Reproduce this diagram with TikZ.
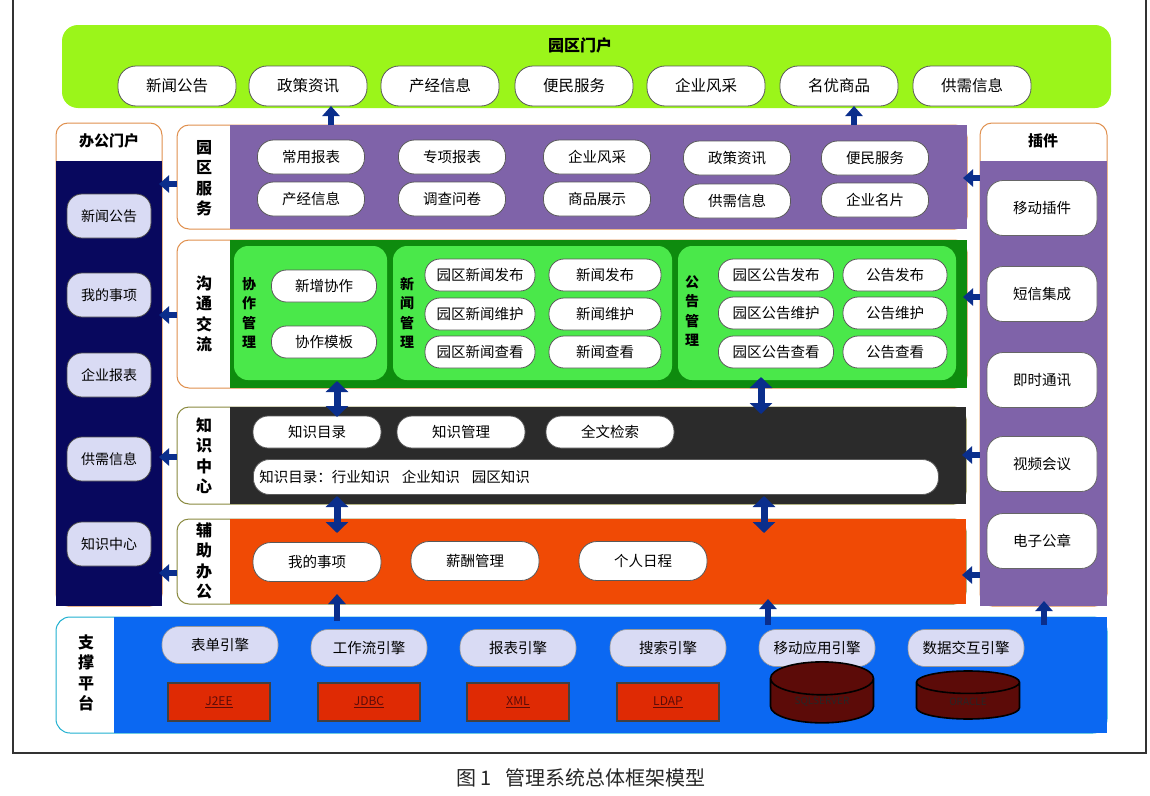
\documentclass[tikz,border=0pt]{standalone}
\usepackage{fontspec}
\setmainfont{Noto Sans CJK SC}
\usetikzlibrary{arrows.meta,shapes.geometric,calc}
\definecolor{limeC}{HTML}{9BF51A}
\definecolor{purpleC}{HTML}{7F63A9}
\definecolor{dkgreen}{HTML}{0E8B0E}
\definecolor{ltgreen}{HTML}{4AE84A}
\definecolor{darkC}{HTML}{2B2B2B}
\definecolor{orangeC}{HTML}{F04A05}
\definecolor{blueC}{HTML}{0B68F2}
\definecolor{navyC}{HTML}{08085E}
\definecolor{lavC}{HTML}{D9DBF4}
\definecolor{arrowC}{HTML}{0A2E8C}
\definecolor{redC}{HTML}{DF2A04}
\definecolor{cylC}{HTML}{5C0B08}
\definecolor{frameO}{HTML}{E0904E}
\definecolor{frameG}{HTML}{8A8A40}
\definecolor{frameB}{HTML}{20B0D0}
\begin{document}
\begin{tikzpicture}[x=1pt,y=-1pt,
  box/.style={inner sep=0pt, outer sep=0pt, anchor=north west},
  pill/.style={draw=black!65, fill=white, line width=0.8pt, inner sep=0pt, rounded corners=15pt, font=\fontsize{14.5}{14.5}\selectfont},
  lpill/.style={draw=black!70, fill=lavC, line width=0.8pt, inner sep=0pt, rounded corners=15pt, minimum width=84pt, minimum height=44pt, font=\fontsize{14}{14}\selectfont},
  epill/.style={draw=black!40, fill=lavC, line width=0.6pt, inner sep=0pt, rounded corners=17pt, minimum width=116pt, minimum height=37pt, font=\fontsize{14.5}{14.5}\selectfont},
  wpill/.style={draw=black!60, fill=white, line width=0.8pt, inner sep=0pt, rounded corners=16pt, minimum width=110pt, minimum height=55pt, font=\fontsize{14.5}{14.5}\selectfont},
  vlabel/.style={align=center, inner sep=0pt, font=\bfseries\fontsize{16}{20.5}\selectfont},
  ivlabel/.style={align=center, inner sep=0pt, font=\bfseries\fontsize{14}{19.5}\selectfont},
  redbox/.style={draw=black!75, line width=1.5pt, fill=redC, inner sep=0pt, minimum width=102pt, minimum height=38pt, text=cylC, font=\fontsize{12}{12}\selectfont},
  db/.style={cylinder, shape border rotate=90, aspect=0.6, draw=black, line width=1.6pt, fill=cylC, inner sep=0pt, minimum width=103pt, minimum height=48pt, text=black!85, font=\fontsize{10}{10}\selectfont},
  arr/.style={draw=arrowC, line width=6pt, -{Triangle[width=17pt,length=10pt]}},
  darr/.style={draw=arrowC, line width=7pt, {Triangle[width=22pt,length=11pt]}-{Triangle[width=22pt,length=11pt]}}
]
\useasboundingbox (0,0) rectangle (1150,795);
\fill[white] (0,0) rectangle (1150,795);
% outer frame
\draw[line width=1.5pt, black!80] (13,-5) -- (13,753) -- (1146,753) -- (1146,-5);

% ---------- park portal ----------
\node[box, fill=limeC, rounded corners=16pt, minimum width=1049pt, minimum height=83pt] (portal) at (62,25) {};
\node[inner sep=0pt, font=\bfseries\fontsize{16}{16}\selectfont] (portalT) at (580,45) {园区门户};
\begin{scope}[every node/.append style={pill, minimum width=118pt, minimum height=40pt, rounded corners=18pt, font=\fontsize{15.5}{15.5}\selectfont}]
\node (t1) at (177,86) {新闻公告};
\node (t2) at (308,86) {政策资讯};
\node (t3) at (440,86) {产经信息};
\node (t4) at (574,86) {便民服务};
\node (t5) at (706,86) {企业风采};
\node (t6) at (839,86) {名优商品};
\node (t7) at (972,86) {供需信息};
\end{scope}

% ---------- office portal (left column) ----------
\node[box, draw=frameO, line width=1pt, fill=white, rounded corners=12pt, minimum width=106pt, minimum height=483pt] (office) at (56,123) {};
\node[box, fill=navyC, minimum width=106pt, minimum height=445pt] (officeB) at (56,161) {};
\node[inner sep=0pt, font=\bfseries\fontsize{15}{15}\selectfont] (officeT) at (109,141) {办公门户};
\node[lpill] (o1) at (109,216) {新闻公告};
\node[lpill] (o2) at (109,295) {我的事项};
\node[lpill] (o3) at (109,375) {企业报表};
\node[lpill] (o4) at (109,459) {供需信息};
\node[lpill] (o5) at (109,544) {知识中心};

% ---------- plug-ins (right column) ----------
\node[box, draw=frameO, line width=1pt, fill=white, rounded corners=12pt, minimum width=127pt, minimum height=483pt] (plug) at (980,123) {};
\node[box, fill=purpleC, minimum width=127pt, minimum height=445pt] (plugB) at (980,161) {};
\node[inner sep=0pt, font=\bfseries\fontsize{15}{15}\selectfont] (plugT) at (1043,141) {插件};
\node[wpill] (g1) at (1042,208) {移动插件};
\node[wpill] (g2) at (1042,294) {短信集成};
\node[wpill] (g3) at (1042,380) {即时通讯};
\node[wpill] (g4) at (1042,464) {视频会议};
\node[wpill] (g5) at (1042,541) {电子公章};

% ---------- park services ----------
\node[box, draw=frameO, line width=1pt, fill=white, rounded corners=12pt, minimum width=790pt, minimum height=104pt] (svcF) at (177,125) {};
\node[box, fill=purpleC, minimum width=737pt, minimum height=104pt] (svc) at (230,125) {};
\node[vlabel] (svcL) at (204,178) {园\\区\\服\\务};
\begin{scope}[every node/.append style={pill, minimum width=107pt, minimum height=34pt, rounded corners=16pt}]
\node (s1) at (311,157) {常用报表};
\node (s2) at (452,157) {专项报表};
\node (s3) at (597,157) {企业风采};
\node (s4) at (737,158) {政策资讯};
\node (s5) at (875,158) {便民服务};
\node (s6) at (311,199) {产经信息};
\node (s7) at (452,199) {调查问卷};
\node (s8) at (597,199) {商品展示};
\node (s9) at (737,201) {供需信息};
\node (s10) at (875,200) {企业名片};
\end{scope}

% ---------- communication ----------
\node[box, draw=frameO, line width=1pt, fill=white, rounded corners=12pt, minimum width=790pt, minimum height=148pt] (comF) at (177,240) {};
\node[box, fill=dkgreen, minimum width=737pt, minimum height=148pt] (com) at (230,240) {};
\node[vlabel] (comL) at (204,314) {沟\\通\\交\\流};
\node[box, fill=ltgreen, rounded corners=14pt, minimum width=153pt, minimum height=134pt] (pa) at (234,246) {};
\node[box, fill=ltgreen, rounded corners=14pt, minimum width=279pt, minimum height=134pt] (pb) at (393,246) {};
\node[box, fill=ltgreen, rounded corners=14pt, minimum width=278pt, minimum height=134pt] (pc) at (678,246) {};
\node[ivlabel] (paL) at (249,313) {协\\作\\管\\理};
\node[ivlabel] (pbL) at (407,313) {新\\闻\\管\\理};
\node[ivlabel] (pcL) at (692,311) {公\\告\\管\\理};
\begin{scope}[every node/.append style={pill, minimum height=32pt, rounded corners=15pt}]
\node[minimum width=105pt] (a1) at (324,286) {新增协作};
\node[minimum width=105pt] (a2) at (324,342) {协作模板};
\node[minimum width=110pt] (b1) at (480,275) {园区新闻发布};
\node[minimum width=110pt] (b2) at (480,314) {园区新闻维护};
\node[minimum width=110pt] (b3) at (480,352) {园区新闻查看};
\node[minimum width=112pt] (b4) at (605,275) {新闻发布};
\node[minimum width=112pt] (b5) at (605,314) {新闻维护};
\node[minimum width=112pt] (b6) at (605,352) {新闻查看};
\node[minimum width=115pt] (c1) at (776,275) {园区公告发布};
\node[minimum width=115pt] (c2) at (776,313) {园区公告维护};
\node[minimum width=115pt] (c3) at (776,352) {园区公告查看};
\node[minimum width=104pt] (c4) at (895,275) {公告发布};
\node[minimum width=104pt] (c5) at (895,313) {公告维护};
\node[minimum width=104pt] (c6) at (895,352) {公告查看};
\end{scope}

% ---------- knowledge centre ----------
\node[box, draw=frameG, line width=1pt, fill=white, rounded corners=12pt, minimum width=789pt, minimum height=97pt] (knF) at (177,407) {};
\node[box, fill=darkC, minimum width=736pt, minimum height=97pt] (kn) at (230,407) {};
\node[vlabel] (knL) at (204,456) {知\\识\\中\\心};
\begin{scope}[every node/.append style={pill, minimum width=128pt, minimum height=32pt, rounded corners=15pt}]
\node (k1) at (317,432) {知识目录};
\node (k2) at (461,432) {知识管理};
\node (k3) at (610,432) {全文检索};
\end{scope}
\node[pill, anchor=west, minimum height=35pt, rounded corners=16pt, inner xsep=6pt, text width=673pt, align=left] (k4) at (253,477) {知识目录：行业知识\hspace{12pt}企业知识\hspace{12pt}园区知识};

% ---------- auxiliary office ----------
\node[box, draw=frameG, line width=1pt, fill=white, rounded corners=12pt, minimum width=789pt, minimum height=85pt] (auxF) at (177,519) {};
\node[box, fill=orangeC, minimum width=736pt, minimum height=85pt] (aux) at (230,519) {};
\node[vlabel] (auxL) at (204,561) {辅\\助\\办\\公};
\begin{scope}[every node/.append style={pill, minimum width=128pt, minimum height=39pt, rounded corners=18pt}]
\node (x1) at (317,562) {我的事项};
\node (x2) at (475,561) {薪酬管理};
\node (x3) at (643,561) {个人日程};
\end{scope}

% ---------- support platform ----------
\node[box, draw=frameB, line width=1pt, fill=white, rounded corners=14pt, minimum width=1051pt, minimum height=116pt] (supF) at (56,617) {};
\node[box, fill=blueC, minimum width=993pt, minimum height=116pt] (sup) at (114,617) {};
\node[vlabel] (supL) at (86,673) {支\\撑\\平\\台};
\node[epill] (e1) at (220,645) {表单引擎};
\node[epill] (e2) at (369,648) {工作流引擎};
\node[epill] (e3) at (518,648) {报表引擎};
\node[epill] (e4) at (668,648) {搜索引擎};
\node[epill] (e5) at (817,648) {移动应用引擎};
\node[epill] (e6) at (966,648) {数据交互引擎};
\node[redbox] (r1) at (219,702) {\underline{J2EE}};
\node[redbox] (r2) at (369,702) {\underline{JDBC}};
\node[redbox] (r3) at (518,702) {\underline{XML}};
\node[redbox] (r4) at (668,702) {\underline{LDAP}};
\node[db] (d1) at (822,701) {\raisebox{-9pt}{SQLSERVER}};
\node[db] (d2) at (968,701) {\raisebox{-9pt}{ORACLE}};

% ---------- arrows ----------
% up to park portal
\draw[arr] (svcF.north -| 331,0) -- ($(portal.south -| 331,0)+(0,-2)$);
\draw[arr] (svcF.north -| 854,0) -- ($(portal.south -| 854,0)+(0,-2)$);
% left to office portal
\draw[arr] (svcF.west |- 0,184) -- ($(officeB.east |- 0,184)+(-3,0)$);
\draw[arr] (comF.west |- 0,315) -- ($(officeB.east |- 0,315)+(-3,0)$);
\draw[arr] (knF.west |- 0,457) -- ($(officeB.east |- 0,457)+(-3,0)$);
\draw[arr] (auxF.west |- 0,573) -- ($(officeB.east |- 0,573)+(-3,0)$);
% plug-ins to rows
\draw[arr] (plugB.west |- 0,178) -- ($(svc.east |- 0,178)+(-4,0)$);
\draw[arr] (plugB.west |- 0,297) -- ($(com.east |- 0,297)+(-4,0)$);
\draw[arr] (plugB.west |- 0,455) -- ($(kn.east |- 0,455)+(-4,0)$);
\draw[arr] (plugB.west |- 0,575) -- ($(aux.east |- 0,575)+(-4,0)$);
% double arrows between rows
\draw[darr] ($(com.south -| 337,0)+(0,-7)$) -- ($(kn.north -| 337,0)+(0,10)$);
\draw[darr] ($(com.south -| 761,0)+(0,-11)$) -- ($(kn.north -| 761,0)+(0,7)$);
\draw[darr] ($(kn.south -| 337,0)+(0,-8)$) -- ($(aux.north -| 337,0)+(0,14)$);
\draw[darr] ($(kn.south -| 764,0)+(0,-8)$) -- ($(aux.north -| 764,0)+(0,14)$);
% up from support platform
\draw[arr] ($(sup.north -| 337,0)+(0,4)$) -- ($(aux.south -| 337,0)+(0,-10)$);
\draw[arr] ($(sup.north -| 768,0)+(0,8)$) -- ($(aux.south -| 768,0)+(0,-5)$);
\draw[arr] ($(sup.north -| 1044,0)+(0,8)$) -- ($(plugB.south -| 1044,0)+(0,-5)$);

% caption
\node[inner sep=0pt, text=black!85, font=\fontsize{20}{20}\selectfont] (cap) at (581,778) {图 1\hspace{14pt}管理系统总体框架模型};
\end{tikzpicture}
\end{document}
